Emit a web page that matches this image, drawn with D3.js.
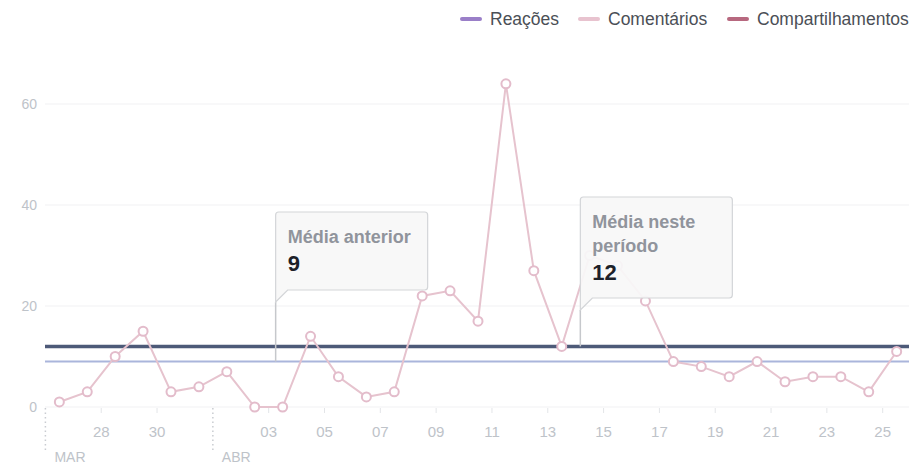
<!DOCTYPE html>
<html>
<head>
<meta charset="utf-8">
<script src="https://cdn.jsdelivr.net/npm/d3@7"></script>
<style>
  body { margin: 0; background: #fff; }
  svg { display: block; font-family: "Liberation Sans", Arial, sans-serif; }
</style>
</head>
<body>
<div id="chart-area"></div>
<script>
// days shown (one point per day, drawn at noon)
var days = ['2018-03-26','2018-03-27','2018-03-28','2018-03-29','2018-03-30','2018-03-31',
  '2018-04-01','2018-04-02','2018-04-03','2018-04-04','2018-04-05','2018-04-06','2018-04-07',
  '2018-04-08','2018-04-09','2018-04-10','2018-04-11','2018-04-12','2018-04-13','2018-04-14',
  '2018-04-15','2018-04-16','2018-04-17','2018-04-18','2018-04-19','2018-04-20','2018-04-21',
  '2018-04-22','2018-04-23','2018-04-24','2018-04-25'];
var comentarios = [1, 3, 10, 15, 3, 4, 7, 0, 0, 14, 6, 2, 3, 22, 23, 17, 64, 27, 12, 30,
  28, 21, 9, 8, 6, 9, 5, 6, 6, 3, 11];

// x tick labels and month markers
var tickDays = ['2018-03-28','2018-03-30','2018-04-03','2018-04-05','2018-04-07','2018-04-09',
  '2018-04-11','2018-04-13','2018-04-15','2018-04-17','2018-04-19','2018-04-21','2018-04-23','2018-04-25'];
var monthDays = ['2018-03-26', '2018-04-01'];
var monthLabels = ['MAR', 'ABR'];
var yTicks = [0, 20, 40, 60];

// averages
var mediaAnterior = 9;
var mediaPeriodo = 12;

// legend
var legendNames = ['Reações', 'Comentários', 'Compartilhamentos'];
var legendColors = ['#9a7fc8', '#e8c3cf', '#b7687f'];

var width = 909, height = 464;
var parse = d3.timeParse('%Y-%m-%d');
var data = days.map((d, i) => { return { date: d3.timeHour.offset(parse(d), 12), value: comentarios[i] } });

var svg = d3.select('#chart-area').append('svg')
  .attr('width', width)
  .attr('height', height);

// scales
var x = d3.scaleTime()
  .domain([parse('2018-03-26'), parse('2018-04-26')])
  .range([45.4, 910.6]);
var y = d3.scaleLinear().domain([0, 60]).range([407, 104]);

// grid lines + y labels
svg.append('g').selectAll('line')
  .data(yTicks).enter().append('line')
  .attr('x1', 45).attr('x2', width)
  .attr('y1', d => y(d)).attr('y2', d => y(d))
  .attr('stroke', '#f1f1f3').attr('stroke-width', 1);
svg.append('g').selectAll('text')
  .data(yTicks).enter().append('text')
  .attr('x', 37).attr('y', d => y(d) + 5)
  .attr('text-anchor', 'end')
  .attr('font-size', 14)
  .attr('fill', '#bec3c9')
  .text(d => d);

// x axis ticks
var xAxis = svg.append('g').attr('transform', 'translate(0,' + 408 + ')');
xAxis.selectAll('line.tick')
  .data(tickDays).enter().append('line')
  .attr('class', 'tick')
  .attr('x1', d => x(parse(d))).attr('x2', d => x(parse(d)))
  .attr('y1', 0).attr('y2', 5)
  .attr('stroke', '#e3e5e8');
xAxis.selectAll('text.tick')
  .data(tickDays).enter().append('text')
  .attr('class', 'tick')
  .attr('x', d => x(parse(d)))
  .attr('y', 29)
  .attr('text-anchor', 'middle')
  .attr('font-size', 15)
  .attr('fill', '#bec3c9')
  .text(d => d3.timeFormat('%d')(parse(d)));
xAxis.selectAll('line.month')
  .data(monthDays).enter().append('line')
  .attr('class', 'month')
  .attr('x1', d => x(parse(d))).attr('x2', d => x(parse(d)))
  .attr('y1', 0).attr('y2', 44)
  .attr('stroke', '#c9ccd1')
  .attr('stroke-width', 1.5)
  .attr('stroke-dasharray', '1.5,3');
xAxis.selectAll('text.month')
  .data(monthDays).enter().append('text')
  .attr('class', 'month')
  .attr('x', d => x(parse(d)) + 9)
  .attr('y', 54)
  .attr('font-size', 14)
  .attr('fill', '#bec3c9')
  .text((d, i) => monthLabels[i]);

// average lines
svg.append('line')
  .attr('x1', 45).attr('x2', width)
  .attr('y1', y(mediaAnterior)).attr('y2', y(mediaAnterior))
  .attr('stroke', '#aab5db').attr('stroke-width', 2);
svg.append('line')
  .attr('x1', 45).attr('x2', width)
  .attr('y1', y(mediaPeriodo)).attr('y2', y(mediaPeriodo))
  .attr('stroke', '#4d5a78').attr('stroke-width', 3.5);

// line + points
var line = d3.line()
  .x(d => x(d.date))
  .y(d => y(d.value));
svg.append('path')
  .attr('fill', 'none')
  .attr('stroke', '#e6c3ce')
  .attr('stroke-width', 2)
  .attr('d', line(data));
svg.append('g').selectAll('circle')
  .data(data).enter().append('circle')
  .attr('cx', d => x(d.date))
  .attr('cy', d => y(d.value))
  .attr('r', 4.5)
  .attr('fill', '#fff')
  .attr('stroke', '#e3bccb')
  .attr('stroke-width', 2);

// callouts
function callout(anchorDate, value, lines, number, boxTop, boxBottom) {
  var x0 = x(anchorDate);
  var w = 152;
  var g = svg.append('g');
  g.append('line')
    .attr('x1', x0).attr('x2', x0)
    .attr('y1', boxBottom + 12).attr('y2', y(value))
    .attr('stroke', '#c6c8cc').attr('stroke-width', 1.5);
  var p = 'M' + x0 + ',' + (boxTop + 3) +
    ' Q' + x0 + ',' + boxTop + ' ' + (x0 + 3) + ',' + boxTop +
    ' L' + (x0 + w - 3) + ',' + boxTop +
    ' Q' + (x0 + w) + ',' + boxTop + ' ' + (x0 + w) + ',' + (boxTop + 3) +
    ' L' + (x0 + w) + ',' + (boxBottom - 3) +
    ' Q' + (x0 + w) + ',' + boxBottom + ' ' + (x0 + w - 3) + ',' + boxBottom +
    ' L' + (x0 + 12) + ',' + boxBottom +
    ' L' + x0 + ',' + (boxBottom + 12) + ' Z';
  g.append('path')
    .attr('d', p)
    .attr('fill', '#f7f7f8')
    .attr('fill-opacity', 0.93)
    .attr('stroke', '#d3d5d8')
    .attr('stroke-width', 1.2);
  lines.forEach((t, i) => {
    g.append('text')
      .attr('x', x0 + 12)
      .attr('y', boxTop + 31 + i * 24)
      .attr('font-size', 18)
      .attr('font-weight', 'bold')
      .attr('fill', '#90949c')
      .text(t);
  });
  g.append('text')
    .attr('x', x0 + 12)
    .attr('y', boxTop + 31 + (lines.length - 1) * 24 + 28)
    .attr('font-size', 22)
    .attr('font-weight', 'bold')
    .attr('fill', '#1d2129')
    .text(number);
}
callout(d3.timeHour.offset(parse('2018-04-03'), 6), mediaAnterior, ['Média anterior'], mediaAnterior, 212, 290);
callout(d3.timeHour.offset(parse('2018-04-14'), 4), mediaPeriodo, ['Média neste', 'período'], mediaPeriodo, 197, 298);

// legend
var legendX = [460, 578, 727];
var legend = svg.append('g').selectAll('g')
  .data(legendNames).enter().append('g')
  .attr('transform', (d, i) => 'translate(' + legendX[i] + ',19)');
legend.append('line')
  .attr('x1', 2).attr('x2', 20)
  .attr('y1', 0).attr('y2', 0)
  .attr('stroke', (d, i) => legendColors[i])
  .attr('stroke-width', 4)
  .attr('stroke-linecap', 'round');
legend.append('text')
  .attr('x', 30).attr('y', 6)
  .attr('font-size', 17.5)
  .attr('fill', '#4b4f56')
  .text(d => d);
</script>
</body>
</html>
